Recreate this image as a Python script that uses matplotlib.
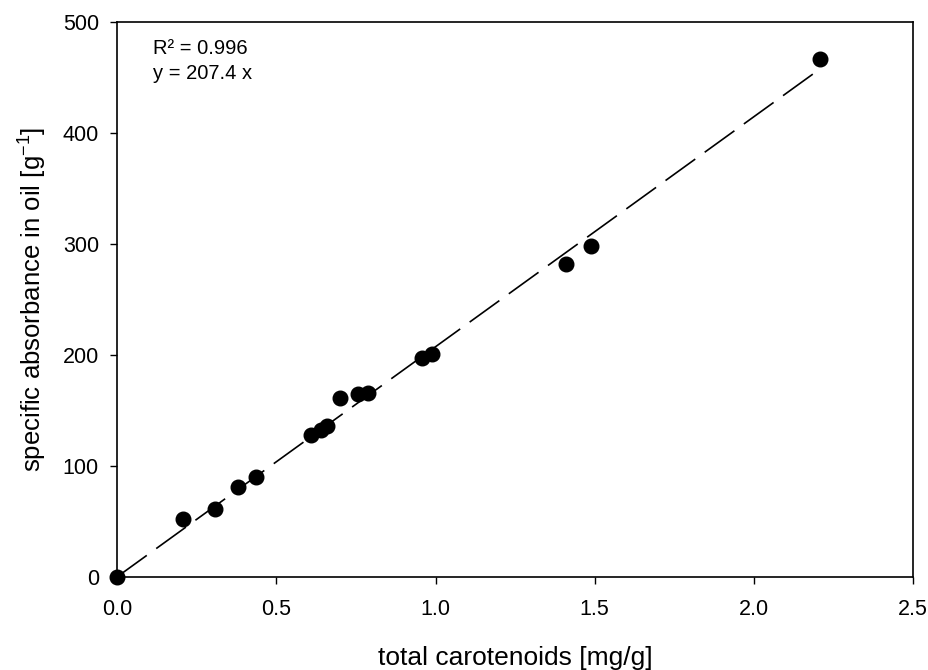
import matplotlib
matplotlib.use('Agg')
import matplotlib.pyplot as plt
import numpy as np

plt.rcParams['font.family'] = ['Liberation Sans', 'DejaVu Sans']
plt.rcParams['mathtext.fontset'] = 'custom'
plt.rcParams['mathtext.rm'] = 'Liberation Sans'
plt.rcParams['mathtext.it'] = 'Liberation Sans'

# datos
carotenoides = [0.0, 0.208, 0.308, 0.379, 0.437, 0.608, 0.639, 0.660, 0.699,
                0.758, 0.789, 0.958, 0.989, 1.41, 1.489, 2.208]
absorbancia = [0.0, 52, 61, 81, 89.6, 127.8, 132, 135.8, 161.2,
               164.8, 165.7, 197, 200.9, 282.4, 298.5, 467]
pendiente = 207.4
x_fit = [0.0, 2.21]

fig = plt.figure(figsize=(9.29, 6.70), dpi=100)
ax = fig.add_axes([0.126, 0.139, 0.857, 0.828])

y_fit = [pendiente * v for v in x_fit]
ax.plot(x_fit, y_fit, color='black', linewidth=1.2, dashes=(22, 7))
ax.plot(carotenoides, absorbancia, 'o', color='black', markersize=10.5, clip_on=False)

ax.set_xlim(0, 2.5)
ax.set_ylim(0, 500)
ax.set_xticks(np.arange(0, 2.51, 0.5))
ax.set_xticklabels(['0.0', '0.5', '1.0', '1.5', '2.0', '2.5'])
ax.set_yticks(range(0, 501, 100))
ax.tick_params(direction='out', length=5, width=1, labelsize=15.5, top=False, right=False)
ax.tick_params(axis='x', pad=11)
ax.tick_params(axis='y', pad=8)
for s in ax.spines.values():
    s.set_linewidth(1.2)

ax.set_xlabel('total carotenoids [mg/g]', fontsize=19, labelpad=19)
ax.set_ylabel('specific absorbance in oil [g$^{-1}$]', fontsize=18.5, labelpad=10)

ax.text(0.045, 0.953, 'R² = 0.996', transform=ax.transAxes,
        fontsize=14.5, va='center', ha='left')
ax.text(0.045, 0.908, 'y = 207.4 x', transform=ax.transAxes,
        fontsize=14.5, va='center', ha='left')

plt.savefig('out.png', dpi=100)
plt.close()
